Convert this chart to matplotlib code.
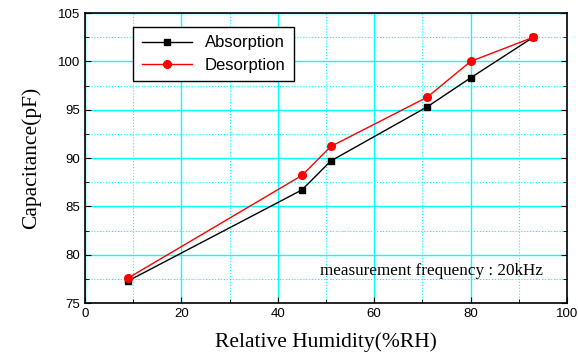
import numpy as np
import matplotlib
matplotlib.use("Agg")
import matplotlib.pyplot as plt
from matplotlib.ticker import MultipleLocator

# data
humidity = [9, 45, 51, 71, 80, 93]
absorption = [77.3, 86.7, 89.7, 95.3, 98.3, 102.5]
desorption = [77.6, 88.2, 91.2, 96.3, 100.0, 102.5]

fig = plt.figure(figsize=(5.78, 3.54), dpi=100)
ax = fig.add_axes([0.147, 0.144, 0.834, 0.819])

ax.plot(humidity, absorption, color='black', lw=1, marker='s', ms=5,
        mfc='black', mec='black', label='Absorption', zorder=3)
ax.plot(humidity, desorption, color='red', lw=1, marker='o', ms=5.5,
        mfc='red', mec='red', label='Desorption', zorder=3)

ax.set_xlim(0, 100)
ax.set_ylim(75, 105)
ax.xaxis.set_major_locator(MultipleLocator(20))
ax.xaxis.set_minor_locator(MultipleLocator(10))
ax.yaxis.set_major_locator(MultipleLocator(5))
ax.yaxis.set_minor_locator(MultipleLocator(2.5))

ax.grid(True, which='major', color='#00ffff', lw=1.0, ls='-', zorder=0)
ax.grid(True, which='minor', color='#00ffff', lw=0.8, ls=':', zorder=0)
ax.set_axisbelow(True)

ax.tick_params(which='both', direction='in', right=True, top=False,
               labelsize=9.5)
ax.tick_params(which='major', length=4)
ax.tick_params(which='minor', length=3)
for lab in ax.get_xticklabels() + ax.get_yticklabels():
    lab.set_family('Liberation Sans')
for sp in ax.spines.values():
    sp.set_linewidth(1.2)

ax.set_xlabel('Relative Humidity(%RH)', family='Liberation Serif', fontsize=15.5,
              labelpad=9)
ax.set_ylabel('Capacitance(pF)', family='Liberation Serif', fontsize=15.5,
              labelpad=12)

ax.text(0.488, 0.095, 'measurement frequency : 20kHz', transform=ax.transAxes,
        family='Liberation Serif', fontsize=12.3)

leg = ax.legend(loc='upper left', bbox_to_anchor=(0.1, 0.952),
                prop={'family': 'Liberation Sans', 'size': 12},
                fancybox=False, framealpha=1, edgecolor='black',
                handlelength=3, borderpad=0.5, labelspacing=0.45,
                borderaxespad=0)
leg.get_frame().set_linewidth(1.0)

fig.savefig('out.png', dpi=100)
